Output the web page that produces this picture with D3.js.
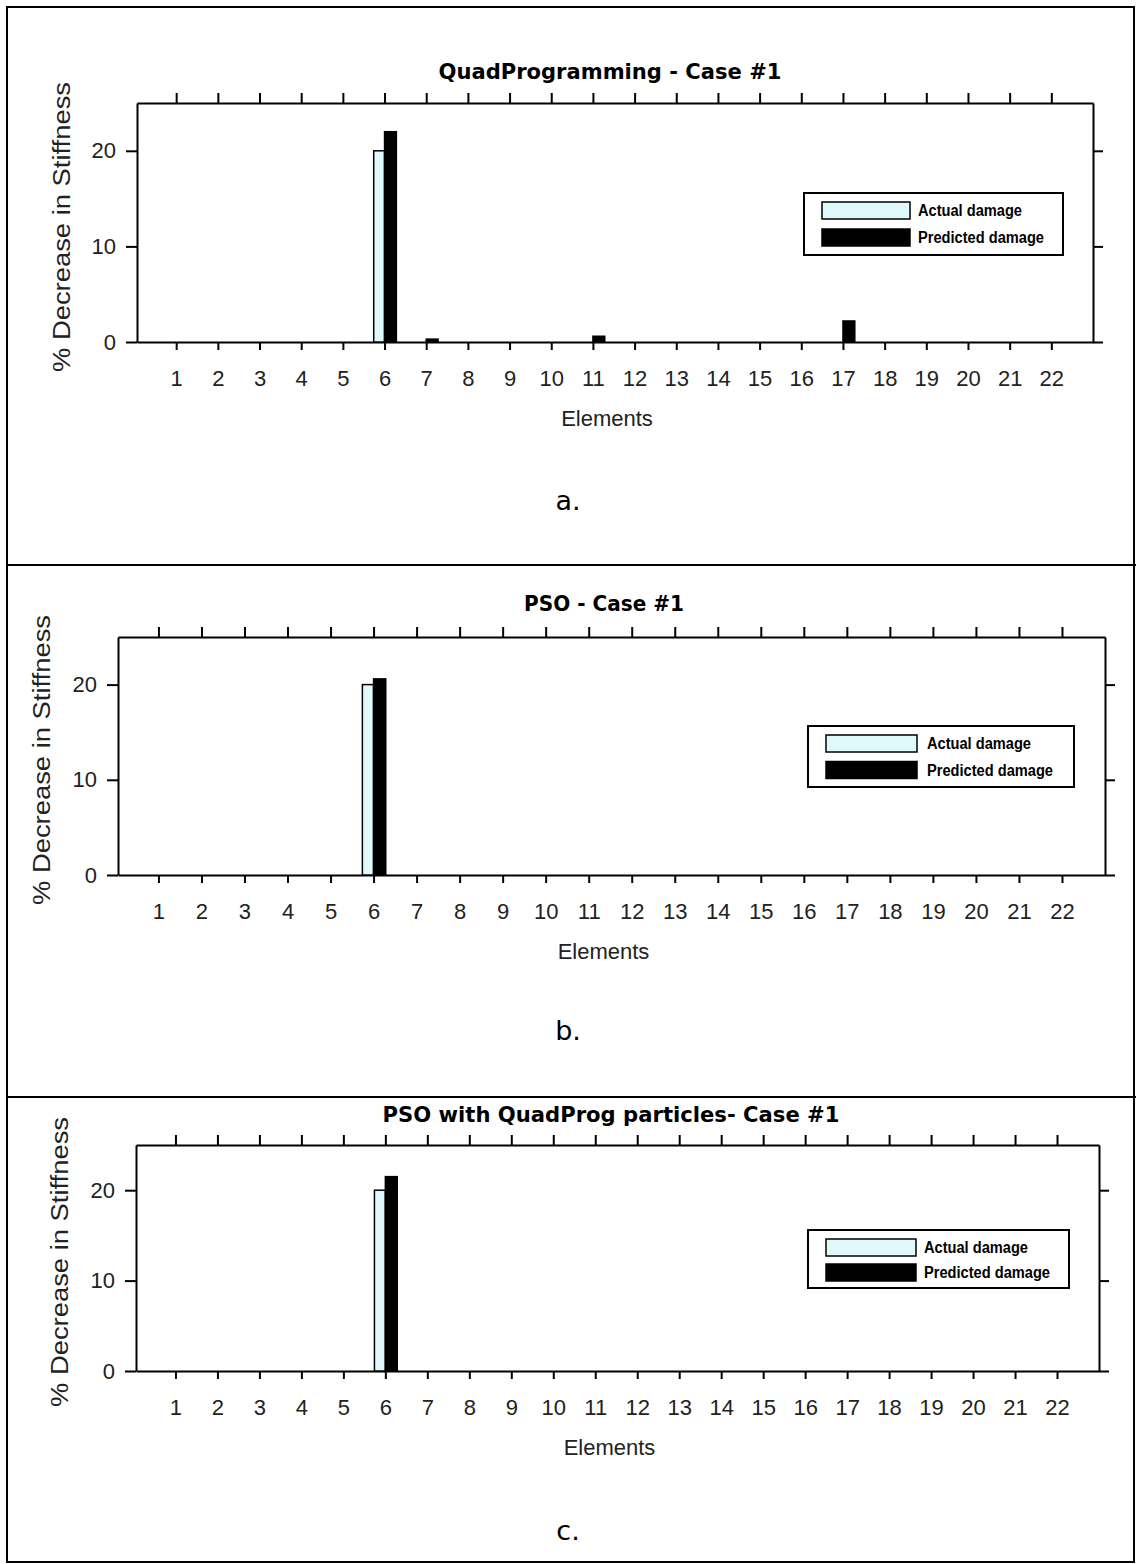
<!DOCTYPE html>
<html>
<head>
<meta charset="utf-8">
<script src="https://cdn.jsdelivr.net/npm/d3@7"></script>
<style>
  body { margin: 0; background: #fff; }
  svg { display: block; }
</style>
</head>
<body>
<svg id="my_svg"></svg>
<script>
const width = 1136;
const height = 1564;

// data
const elements = [1, 2, 3, 4, 5, 6, 7, 8, 9, 10, 11, 12, 13, 14, 15, 16, 17, 18, 19, 20, 21, 22];
const yTicks = [0, 10, 20];
const actualA    = [0, 0, 0, 0, 0, 20, 0, 0, 0, 0, 0, 0, 0, 0, 0, 0, 0, 0, 0, 0, 0, 0];
const predictedA = [0, 0, 0, 0, 0, 22, 0.3, 0, 0, 0, 0.6, 0, 0, 0, 0, 0, 2.2, 0, 0, 0, 0, 0];
const actualB    = [0, 0, 0, 0, 0, 20, 0, 0, 0, 0, 0, 0, 0, 0, 0, 0, 0, 0, 0, 0, 0, 0];
const predictedB = [0, 0, 0, 0, 0, 20.6, 0, 0, 0, 0, 0, 0, 0, 0, 0, 0, 0, 0, 0, 0, 0, 0];
const actualC    = [0, 0, 0, 0, 0, 20, 0, 0, 0, 0, 0, 0, 0, 0, 0, 0, 0, 0, 0, 0, 0, 0];
const predictedC = [0, 0, 0, 0, 0, 21.5, 0, 0, 0, 0, 0, 0, 0, 0, 0, 0, 0, 0, 0, 0, 0, 0];
const titles = ['QuadProgramming - Case #1', 'PSO - Case #1', 'PSO with QuadProg particles- Case #1'];
const letters = ['a.', 'b.', 'c.'];
const seriesNames = ['Actual damage', 'Predicted damage'];

const actualColor = '#e0f9fb';
const predictedColor = '#000';

const svg = d3.select('#my_svg')
    .attr('width', width)
    .attr('height', height);

// outer box and separators
svg.append('rect')
    .attr('x', 7).attr('y', 7)
    .attr('width', 1127).attr('height', 1555)
    .attr('fill', 'none')
    .attr('stroke', '#000')
    .attr('stroke-width', 2);
[565, 1097].forEach(yy => {
    svg.append('line')
        .attr('x1', 7).attr('x2', 1136)
        .attr('y1', yy).attr('y2', yy)
        .attr('stroke', '#000')
        .attr('stroke-width', 2);
});

const panels = [
    {actual: actualA, predicted: predictedA, l: 137, r: 1093, t: 103, b: 342,
     titleX: 610, titleY: 79, titleLen: 343,
     yLabX: 70, yLabY: 227, letterY: 510,
     legend: {x: 804, y: 193, w: 259, h: 62, sx: 822, sw: 88, tx: 918}},
    {actual: actualB, predicted: predictedB, l: 118, r: 1105, t: 637, b: 875,
     titleX: 604, titleY: 611, titleLen: 160,
     yLabX: 50, yLabY: 760, letterY: 1040,
     legend: {x: 808, y: 726, w: 266, h: 61, sx: 826, sw: 91, tx: 927}},
    {actual: actualC, predicted: predictedC, l: 136, r: 1099, t: 1145, b: 1371,
     titleX: 611, titleY: 1122, titleLen: 457,
     yLabX: 68, yLabY: 1262, letterY: 1540,
     legend: {x: 808, y: 1230, w: 261, h: 58, sx: 826, sw: 90, tx: 924}}
];

panels.forEach((p, pi) => {
    const g = svg.append('g').attr('class', 'panel');

    const x = d3.scaleLinear().domain([0.06, 23]).range([p.l, p.r]);
    const y = d3.scaleLinear().domain([0, 25]).range([p.b, p.t]);

    // axes on all four sides
    g.append('g')
        .attr('transform', `translate(${p.l},0)`)
        .call(d3.axisLeft(y).tickValues(yTicks).tickSize(11).tickSizeOuter(0).tickPadding(10));
    g.append('g')
        .attr('transform', `translate(${p.r},0)`)
        .call(d3.axisRight(y).tickValues(yTicks).tickSize(10).tickSizeOuter(0).tickFormat(''));
    g.append('g')
        .attr('transform', `translate(0,${p.t})`)
        .call(d3.axisTop(x).tickValues(elements).tickSize(10).tickSizeOuter(0).tickFormat(''));
    g.append('g')
        .attr('transform', `translate(0,${p.b})`)
        .call(d3.axisBottom(x).tickValues(elements).tickSize(8).tickSizeOuter(0).tickPadding(20));

    g.selectAll('.domain, .tick line')
        .attr('stroke', '#000')
        .attr('stroke-width', 2);
    g.selectAll('.tick text')
        .attr('fill', '#222')
        .style('font-family', '"Liberation Sans", Arial, sans-serif')
        .style('font-size', '22px');

    // bars
    const bw = (x(1) - x(0)) * 0.26;
    g.append('g').selectAll('rect')
        .data(elements.filter((e, i) => p.actual[i] > 0))
        .enter().append('rect')
        .attr('x', e => x(e) - bw)
        .attr('y', e => y(p.actual[e - 1]))
        .attr('width', bw)
        .attr('height', e => p.b - y(p.actual[e - 1]))
        .attr('fill', actualColor)
        .attr('stroke', '#000')
        .attr('stroke-width', 1.5);
    g.append('g').selectAll('rect')
        .data(elements.filter((e, i) => p.predicted[i] > 0))
        .enter().append('rect')
        .attr('x', e => x(e))
        .attr('y', e => y(p.predicted[e - 1]))
        .attr('width', bw + 1)
        .attr('height', e => p.b - y(p.predicted[e - 1]))
        .attr('fill', predictedColor)
        .attr('stroke', '#000')
        .attr('stroke-width', 1.5);

    // titles and labels
    g.append('text')
        .attr('x', p.titleX).attr('y', p.titleY)
        .attr('text-anchor', 'middle')
        .attr('textLength', p.titleLen)
        .attr('lengthAdjust', 'spacingAndGlyphs')
        .style('font-family', '"DejaVu Sans", Verdana, sans-serif')
        .style('font-weight', 'bold')
        .style('font-size', '21px')
        .text(titles[pi]);

    g.append('text')
        .attr('transform', `translate(${p.yLabX},${p.yLabY}) rotate(-90)`)
        .attr('text-anchor', 'middle')
        .attr('textLength', 290)
        .attr('lengthAdjust', 'spacingAndGlyphs')
        .attr('fill', '#222')
        .style('font-family', '"Liberation Sans", Arial, sans-serif')
        .style('font-size', '23px')
        .text('% Decrease in Stiffness');

    g.append('text')
        .attr('x', (p.l + p.r) / 2 - 8).attr('y', p.b + 84)
        .attr('text-anchor', 'middle')
        .attr('fill', '#222')
        .style('font-family', '"Liberation Sans", Arial, sans-serif')
        .style('font-size', '22px')
        .text('Elements');

    g.append('text')
        .attr('x', 568).attr('y', p.letterY)
        .attr('text-anchor', 'middle')
        .style('font-family', '"DejaVu Sans", Verdana, sans-serif')
        .style('font-size', '27px')
        .text(letters[pi]);

    // legend
    const lg = p.legend;
    const leg = g.append('g').attr('class', 'legend');
    leg.append('rect')
        .attr('x', lg.x).attr('y', lg.y)
        .attr('width', lg.w).attr('height', lg.h)
        .attr('fill', '#fff')
        .attr('stroke', '#000')
        .attr('stroke-width', 2);
    const rowH = lg.h / 2;
    [actualColor, predictedColor].forEach((c, i) => {
        const sy = lg.y + 9 + i * (rowH - 4);
        leg.append('rect')
            .attr('x', lg.sx).attr('y', sy)
            .attr('width', lg.sw).attr('height', 17)
            .attr('fill', c)
            .attr('stroke', '#000')
            .attr('stroke-width', 1.5);
        leg.append('text')
            .attr('x', lg.tx).attr('y', sy + 14)
            .attr('textLength', i === 0 ? 104 : 126)
            .attr('lengthAdjust', 'spacingAndGlyphs')
            .style('font-family', '"Liberation Sans", Arial, sans-serif')
            .style('font-weight', 'bold')
            .style('font-size', '16px')
            .text(seriesNames[i]);
    });
});
</script>
</body>
</html>
